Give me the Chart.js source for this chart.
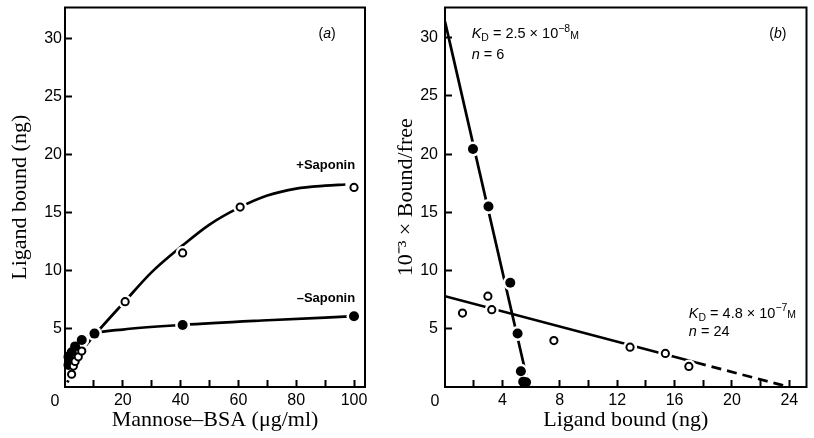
<!DOCTYPE html>
<html>
<head>
<meta charset="utf-8">
<script src="https://cdn.jsdelivr.net/npm/chart.js@4.4.1/dist/chart.umd.min.js"></script>
<style>
  html, body { margin: 0; padding: 0; background: #fff; }
  #wrap { position: relative; width: 814px; height: 438px; overflow: hidden; background: #fff; }
  canvas { position: absolute; top: 0; }
  #cA { left: 0; }
  #cB { left: 380px; }
</style>
</head>
<body>
<div id="wrap">
  <canvas id="cA" width="400" height="438"></canvas>
  <canvas id="cB" width="434" height="438"></canvas>
</div>
<script>
// ---------- datos ----------
// (a) ligando unido vs Mannose-BSA
const concPlus   = [2.3, 2.9, 3.5, 4.6, 5.8, 20.8, 40.7, 60.6, 100];
const boundPlus  = [1.1, 1.8, 2.2, 2.6, 3.1, 7.35, 11.55, 15.5, 17.2];
const concMinus  = [1.2, 1.2, 2.3, 3.5, 5.8, 10.2, 40.7, 100];
const boundMinus = [1.9, 2.6, 3.0, 3.5, 4.05, 4.6, 5.35, 6.1];

// curvas trazadas a mano en el original
const curvePlusX  = [0.8, 2.3, 4.6, 5.8, 10.7, 20.8, 30, 40.7, 50, 60.6, 70, 80, 90, 97];
const curvePlusY  = [0.4, 1.1, 2.6, 3.1, 4.6, 7.4, 9.9, 12.2, 14.0, 15.5, 16.5, 17.1, 17.35, 17.45];
const curveMinusX = [0.3, 1.2, 2.3, 3.5, 5.8, 10.2, 20, 40.7, 70, 100];
const curveMinusY = [1.6, 2.6, 3.1, 3.55, 4.05, 4.6, 4.95, 5.35, 5.75, 6.1];

// (b) Scatchard
const boundHigh = [1.95, 3.03, 4.55, 5.06, 5.29, 5.45, 5.65];
const ratioHigh = [20.45, 15.5, 8.95, 4.6, 1.35, 0.45, 0.4];
const boundLow  = [1.22, 2.99, 3.26, 7.59, 12.9, 15.36, 17.0];
const ratioLow  = [6.35, 7.8, 6.64, 3.99, 3.42, 2.88, 1.77];

const fitHighX = [0, 5.85];
const fitHighY = [31.4, 0];
const fitLowX  = [0, 17.5];
const fitLowY  = [7.8, 2.1];
const extLowX  = [17.5, 24];
const extLowY  = [2.1, 0];

// ---------- utilidades ----------
const SANS  = '"Liberation Sans", Arial, Helvetica, sans-serif';
const SERIF = '"Liberation Serif", "Times New Roman", serif';

const pts = (xs, ys) => xs.map((x, i) => ({ x, y: ys[i] }));

function markers(xs, ys, filled) {
  return {
    data: pts(xs, ys), showLine: false, order: 0, clip: false,
    pointRadius: filled ? 5 : 3.6,
    pointBorderWidth: filled ? 0 : 2,
    pointBackgroundColor: filled ? '#000' : '#fff',
    pointBorderColor: '#000'
  };
}

// aro blanco que corta la línea alrededor de cada punto
function halo(xs, ys, r) {
  return {
    data: pts(xs, ys), showLine: false, order: 1,
    pointRadius: r, pointBorderWidth: 0, pointBackgroundColor: '#fff'
  };
}

function curve(xs, ys, dash) {
  return {
    data: pts(xs, ys), order: 2, showLine: true,
    borderColor: '#000', borderWidth: 2.7, pointRadius: 0,
    cubicInterpolationMode: 'monotone', borderDash: dash || [], fill: false
  };
}

// texto con partes en cursiva / subíndice / superíndice
function drawRuns(ctx, runs, x, y, size, align) {
  const fontOf = r => {
    const s = (r.sub || r.sup || r.small) ? size * 0.72 : size;
    return `${r.italic ? 'italic ' : ''}${r.bold ? 'bold ' : ''}${s}px ${SANS}`;
  };
  let w = 0;
  runs.forEach(r => { ctx.font = fontOf(r); w += ctx.measureText(r.t).width; });
  let cx = align === 'right' ? x - w : align === 'center' ? x - w / 2 : x;
  runs.forEach(r => {
    ctx.font = fontOf(r);
    const dy = r.sub ? size * 0.3 : r.sup ? -size * 0.38 : r.small ? size * 0.12 : 0;
    ctx.fillText(r.t, cx, y + dy);
    cx += ctx.measureText(r.t).width;
  });
}

function notesPlugin(notes) {
  return {
    id: 'notes',
    afterDraw(chart) {
      const { ctx, scales: { x, y } } = chart;
      ctx.save();
      ctx.fillStyle = '#000';
      ctx.textBaseline = 'middle';
      notes.forEach(n => {
        const px = x.getPixelForValue(n.x) + (n.dx || 0);
        const py = y.getPixelForValue(n.y) + (n.dy || 0);
        drawRuns(ctx, n.runs, px, py, n.size, n.align);
      });
      ctx.restore();
    }
  };
}

const framePlugin = {
  id: 'frame',
  afterDraw(chart) {
    const { ctx, chartArea: a } = chart;
    ctx.save();
    ctx.strokeStyle = '#000';
    ctx.lineWidth = 2;
    ctx.strokeRect(a.left, a.top, a.right - a.left, a.bottom - a.top);
    ctx.restore();
  }
};

function buildScales(o) {
  const tickFont = { family: SANS, size: 16 };
  const noPad = s => { s.paddingTop = 0; s.paddingBottom = 0; s.paddingLeft = 0; s.paddingRight = 0; };
  return {
    x: {
      type: 'linear', min: 0, max: o.xMax,
      afterBuildTicks: s => { s.ticks = s.ticks.filter(t => t.value > 0 && Math.abs(t.value % o.xStep) < 1e-9); },
      afterFit: s => { s.height = 51; noPad(s); },
      ticks: {
        stepSize: o.xStep, includeBounds: false, autoSkip: false, maxRotation: 0, padding: 11,
        color: '#000', font: tickFont,
        callback: v => (v % o.xLabel === 0 ? v : '')
      },
      grid: { drawOnChartArea: false, drawTicks: true, tickLength: -7, tickWidth: 2, tickColor: '#000' },
      border: { display: true, color: '#000', width: 2 },
      title: { display: true, text: o.xTitle, color: '#000', font: { family: SERIF, size: 22 }, padding: { top: 0, bottom: 5 } }
    },
    y: {
      type: 'linear', min: 0, max: o.yMax,
      afterBuildTicks: s => { s.ticks = s.ticks.filter(t => t.value > 0 && Math.abs(t.value % 5) < 1e-9); },
      afterFit: s => { s.width = 65; noPad(s); },
      ticks: { stepSize: 5, includeBounds: false, autoSkip: false, padding: o.yPad, color: '#000', font: tickFont },
      grid: { drawOnChartArea: false, drawTicks: true, tickLength: -7, tickWidth: 2, tickColor: '#000' },
      border: { display: true, color: '#000', width: 2 },
      title: { display: true, text: o.yTitle, color: '#000', font: { family: SERIF, size: 22 }, padding: { top: o.yTitlePad, bottom: 0 } }
    }
  };
}

function makeChart(id, datasets, scales, padRight, notes) {
  return new Chart(document.getElementById(id), {
    type: 'scatter',
    data: { datasets },
    options: {
      responsive: false, animation: false, events: [],
      layout: { padding: { left: 0, top: 7, right: padRight, bottom: 0 } },
      plugins: { legend: { display: false }, tooltip: { enabled: false } },
      scales
    },
    plugins: [notesPlugin(notes), framePlugin]
  });
}

const originZero = { x: 0, y: 0, dx: -10, dy: 15, runs: [{ t: '0' }], size: 16, align: 'center' };

// ---------- (a) ----------
makeChart('cA', [
  markers(concPlus, boundPlus, false),
  markers(concMinus, boundMinus, true),
  halo(concPlus, boundPlus, 7),
  halo(concMinus, boundMinus, 7.5),
  curve(curvePlusX, curvePlusY),
  curve(curveMinusX, curveMinusY)
], buildScales({
  xMax: 103.8, xStep: 10, xLabel: 20, yMax: 32.7, yPad: 10, yTitlePad: 7,
  xTitle: 'Mannose–BSA (μg/ml)', yTitle: 'Ligand bound (ng)'
}), 35, [
  { x: 90.7, y: 30.4, runs: [{ t: '(' }, { t: 'a', italic: true }, { t: ')' }], size: 14, align: 'center' },
  { x: 100.4, y: 19.05, runs: [{ t: '+Saponin', bold: true }], size: 13, align: 'right' },
  { x: 100.4, y: 7.67, runs: [{ t: '–Saponin', bold: true }], size: 13, align: 'right' },
  originZero
]);

// ---------- (b) ----------
makeChart('cB', [
  markers(boundHigh, ratioHigh, true),
  markers(boundLow, ratioLow, false),
  halo(boundHigh, ratioHigh, 7.5),
  halo(boundLow, ratioLow, 7),
  curve(fitHighX, fitHighY),
  curve(fitLowX, fitLowY),
  curve(extLowX, extLowY, [10, 6])
], buildScales({
  xMax: 25.2, xStep: 2, xLabel: 4, yMax: 32.6, yPad: 14, yTitlePad: 13,
  xTitle: 'Ligand bound (ng)', yTitle: '10⁻³ × Bound/free'
}), 4, [
  { x: 1.86, y: 30.3, runs: [{ t: 'K', italic: true }, { t: 'D', sub: true }, { t: ' = 2.5 × 10' }, { t: '−8', sup: true }, { t: 'M', small: true }], size: 14.5, align: 'left' },
  { x: 1.86, y: 28.5, runs: [{ t: 'n', italic: true }, { t: ' = 6' }], size: 14.5, align: 'left' },
  { x: 23.2, y: 30.3, runs: [{ t: '(' }, { t: 'b', italic: true }, { t: ')' }], size: 14, align: 'center' },
  { x: 17.0, y: 6.3, runs: [{ t: 'K', italic: true }, { t: 'D', sub: true }, { t: ' = 4.8 × 10' }, { t: '−7', sup: true }, { t: 'M', small: true }], size: 14.5, align: 'left' },
  { x: 17.0, y: 4.7, runs: [{ t: 'n', italic: true }, { t: ' = 24' }], size: 14.5, align: 'left' },
  originZero
]);
</script>
</body>
</html>
